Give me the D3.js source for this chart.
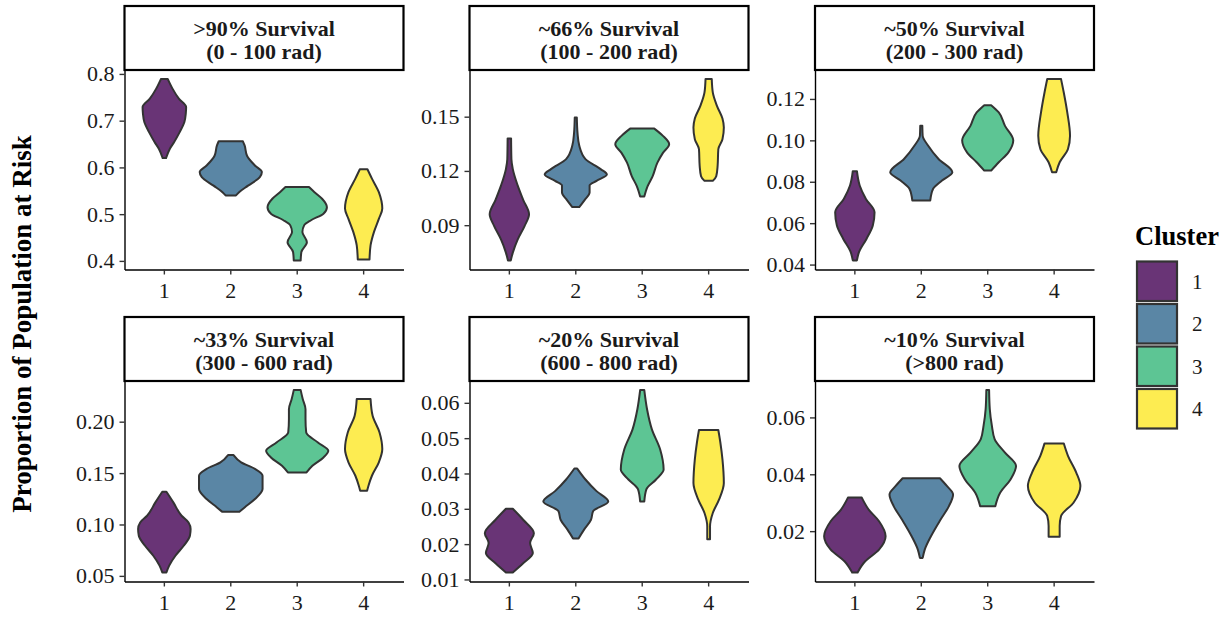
<!DOCTYPE html>
<html><head><meta charset="utf-8">
<script src="https://cdn.jsdelivr.net/npm/d3@7"></script>
<style>body{margin:0;background:#fff} svg{display:block}</style>
</head><body><svg id="chart" width="1228" height="617"></svg>
<script>
// ---------------- data ----------------
const clusters = ["1", "2", "3", "4"];
const clusterColors = ["#440154", "#31688E", "#35B779", "#FDE725"];
const stripTitles = [">90% Survival", "~66% Survival", "~50% Survival", "~33% Survival", "~20% Survival", "~10% Survival"];
const stripSubtitles = ["(0 - 100 rad)", "(100 - 200 rad)", "(200 - 300 rad)", "(300 - 600 rad)", "(600 - 800 rad)", "(>800 rad)"];
const yTicksP1 = [0.4, 0.5, 0.6, 0.7, 0.8];
const yTicksP2 = [0.09, 0.12, 0.15];
const yTicksP3 = [0.04, 0.06, 0.08, 0.10, 0.12];
const yTicksP4 = [0.05, 0.10, 0.15, 0.20];
const yTicksP5 = [0.01, 0.02, 0.03, 0.04, 0.05, 0.06];
const yTicksP6 = [0.02, 0.04, 0.06];
const yTickFormats = [".1f", ".2f", ".2f", ".2f", ".2f", ".2f"];
const yAxisTitle = "Proportion of Population at Risk";
const legendTitle = "Cluster";

// violin profiles per panel: for each cluster, [value, half-width in category units]
const violinsP1 = [
  [[0.620,0.025],[0.640,0.08],[0.654,0.14],[0.675,0.22],[0.697,0.29],[0.715,0.31],[0.729,0.315],[0.747,0.21],[0.768,0.12],[0.789,0.05]],
  [[0.540,0.075],[0.547,0.12],[0.561,0.25],[0.579,0.42],[0.590,0.45],[0.604,0.35],[0.625,0.235],[0.647,0.2],[0.656,0.175]],
  [[0.401,0.05],[0.419,0.06],[0.440,0.14],[0.462,0.075],[0.476,0.1],[0.487,0.2],[0.501,0.38],[0.515,0.43],[0.533,0.36],[0.547,0.25],[0.558,0.17]],
  [[0.403,0.085],[0.433,0.1],[0.462,0.15],[0.490,0.22],[0.512,0.27],[0.547,0.22],[0.576,0.12],[0.596,0.055]]
];
const violinsP2 = [
  [[0.0705,0.02],[0.0748,0.05],[0.082,0.12],[0.0895,0.22],[0.096,0.285],[0.104,0.2],[0.112,0.12],[0.121,0.05],[0.1265,0.03],[0.138,0.025]],
  [[0.100,0.05],[0.104,0.13],[0.108,0.2],[0.112,0.2],[0.1145,0.3],[0.118,0.45],[0.121,0.36],[0.1265,0.14],[0.134,0.05],[0.141,0.025],[0.1495,0.015]],
  [[0.1058,0.03],[0.1117,0.08],[0.117,0.15],[0.1246,0.22],[0.130,0.3],[0.1348,0.39],[0.1394,0.3],[0.1434,0.175]],
  [[0.1145,0.06],[0.117,0.11],[0.1228,0.13],[0.132,0.14],[0.1375,0.2],[0.144,0.22],[0.149,0.2],[0.156,0.12],[0.1634,0.06],[0.1708,0.045]]
];
const violinsP3 = [
  [[0.042,0.03],[0.046,0.06],[0.0525,0.17],[0.0589,0.26],[0.0653,0.285],[0.0717,0.16],[0.0782,0.07],[0.0851,0.03]],
  [[0.071,0.13],[0.0765,0.17],[0.0806,0.3],[0.0846,0.45],[0.091,0.25],[0.0974,0.1],[0.1022,0.02],[0.107,0.015]],
  [[0.0854,0.05],[0.0894,0.16],[0.0942,0.3],[0.100,0.37],[0.107,0.25],[0.1135,0.16],[0.117,0.05]],
  [[0.0846,0.03],[0.0894,0.08],[0.0958,0.2],[0.1022,0.23],[0.1135,0.19],[0.123,0.14],[0.1296,0.1]]
];
const violinsP4 = [
  [[0.0534,0.03],[0.060,0.07],[0.0696,0.16],[0.0793,0.28],[0.089,0.37],[0.0956,0.38],[0.102,0.35],[0.1085,0.25],[0.1215,0.13],[0.1318,0.03]],
  [[0.1124,0.125],[0.1166,0.2],[0.1247,0.35],[0.1344,0.46],[0.1474,0.46],[0.154,0.35],[0.1604,0.15],[0.1675,0.04]],
  [[0.1506,0.135],[0.1571,0.22],[0.1652,0.38],[0.1717,0.45],[0.1798,0.3],[0.1895,0.13],[0.2025,0.12],[0.2122,0.12],[0.222,0.08],[0.2307,0.05]],
  [[0.1328,0.05],[0.1377,0.07],[0.1474,0.12],[0.1604,0.22],[0.1733,0.27],[0.1895,0.23],[0.2057,0.13],[0.222,0.1]]
];
const violinsP5 = [
  [[0.012,0.05],[0.0146,0.2],[0.0175,0.34],[0.0203,0.3],[0.0231,0.355],[0.0269,0.2],[0.030,0.05]],
  [[0.0216,0.04],[0.0241,0.12],[0.0269,0.22],[0.0293,0.25],[0.0321,0.47],[0.035,0.3],[0.0383,0.14],[0.0414,0.02]],
  [[0.0321,0.03],[0.0355,0.06],[0.0383,0.2],[0.0411,0.31],[0.0468,0.26],[0.0525,0.14],[0.0582,0.07],[0.0636,0.03]],
  [[0.0214,0.02],[0.025,0.02],[0.0288,0.06],[0.0326,0.15],[0.0373,0.22],[0.044,0.2],[0.0487,0.17],[0.0523,0.14]]
];
const violinsP6 = [
  [[0.0055,0.04],[0.0094,0.15],[0.0135,0.35],[0.0182,0.445],[0.0235,0.35],[0.0276,0.2],[0.0318,0.1]],
  [[0.0106,0.02],[0.0135,0.05],[0.0182,0.14],[0.0241,0.28],[0.0288,0.4],[0.0329,0.46],[0.0359,0.37],[0.0386,0.27]],
  [[0.0288,0.11],[0.0335,0.18],[0.0382,0.33],[0.0429,0.41],[0.0476,0.25],[0.0524,0.1],[0.0571,0.06],[0.0629,0.03],[0.0696,0.02]],
  [[0.018,0.08],[0.0218,0.08],[0.0253,0.1],[0.030,0.28],[0.0359,0.38],[0.0406,0.32],[0.0465,0.2],[0.0508,0.14]]
];
const panelViolins = [violinsP1, violinsP2, violinsP3, violinsP4, violinsP5, violinsP6];
const panelTicks = [yTicksP1, yTicksP2, yTicksP3, yTicksP4, yTicksP5, yTicksP6];

// ---------------- layout ----------------
const FONT = "'Liberation Serif','Times New Roman',Times,serif";
const colLeft = [124.5, 469.5, 815];
const panelW = 279;
const rowStripTop = [6, 317];
const rowPlotTop = [70, 381];
const rowPlotBottom = [269.5, 581.5];

const svg = d3.select("#chart");
const color = d3.scaleOrdinal().domain(clusters).range(clusterColors);

panelViolins.forEach((violins, p) => {
  const col = p % 3, row = Math.floor(p / 3);
  const left = colLeft[col], right = left + panelW;
  const top = rowPlotTop[row], bottom = rowPlotBottom[row];
  const g = svg.append("g");

  // scales
  const x = d3.scaleBand().domain(clusters).range([left, right]).paddingInner(0).paddingOuter(0.1);
  const allVals = violins.flat().map(d => d[0]);
  const [mn, mx] = d3.extent(allVals);
  const pad = (mx - mn) * 0.05;
  const y = d3.scaleLinear().domain([mn - pad, mx + pad]).range([bottom, top]);
  const w = d3.scaleLinear().domain([0, 1]).range([0, x.step() * 1.04]);

  // violins
  violins.forEach((prof, i) => {
    const cx = x(clusters[i]) + x.bandwidth() / 2;
    const area = d3.area()
      .y(d => y(d[0]))
      .x0(d => cx - w(d[1]))
      .x1(d => cx + w(d[1]))
      .curve(d3.curveMonotoneY);
    g.append("path")
      .attr("d", area(prof))
      .attr("fill", color(clusters[i]))
      .attr("fill-opacity", 0.8)
      .attr("stroke", "#333333")
      .attr("stroke-width", 2)
      .attr("stroke-linejoin", "round");
  });

  // axes
  const yAxis = d3.axisLeft(y).tickValues(panelTicks[p]).tickFormat(d3.format(yTickFormats[p]))
    .tickSize(5).tickSizeOuter(0).tickPadding(5);
  const ya = g.append("g").attr("transform", `translate(${left},0)`).call(yAxis);
  const xAxis = d3.axisBottom(x).tickSize(5).tickSizeOuter(0).tickPadding(8);
  const xa = g.append("g").attr("transform", `translate(0,${bottom})`).call(xAxis);
  [ya, xa].forEach(a => {
    a.attr("font-family", null).attr("font-size", null);
    a.select(".domain").attr("stroke", "#000").attr("stroke-width", 1.4);
    a.selectAll(".tick line").attr("stroke", "#333").attr("stroke-width", 1.4);
    a.selectAll(".tick text").attr("fill", "#1a1a1a").style("font-family", FONT).style("font-size", "22px");
  });

  // strip
  const st = rowStripTop[row];
  g.append("rect").attr("x", left).attr("y", st).attr("width", panelW).attr("height", top - st)
    .attr("fill", "#fff").attr("stroke", "#000").attr("stroke-width", 2.2);
  const tx = (left + right) / 2;
  g.append("text").attr("x", tx).attr("y", st + 29.5).attr("text-anchor", "middle")
    .style("font-family", FONT).style("font-size", "22px").style("font-weight", "bold").attr("fill", "#1a1a1a")
    .text(stripTitles[p]);
  g.append("text").attr("x", tx).attr("y", st + 52.5).attr("text-anchor", "middle")
    .style("font-family", FONT).style("font-size", "22px").style("font-weight", "bold").attr("fill", "#1a1a1a")
    .text(stripSubtitles[p]);
});

// y axis title
svg.append("text")
  .attr("transform", "translate(31,324) rotate(-90)")
  .attr("text-anchor", "middle")
  .style("font-family", FONT).style("font-size", "27px").style("font-weight", "bold")
  .text(yAxisTitle);

// legend
const lg = svg.append("g");
lg.append("text").attr("x", 1135).attr("y", 245)
  .style("font-family", FONT).style("font-size", "26.5px").style("font-weight", "bold")
  .text(legendTitle);
const keyY = d3.scaleBand().domain(clusters).range([260, 430]).padding(0);
clusters.forEach(c => {
  lg.append("rect").attr("x", 1137).attr("y", keyY(c) + 1.5).attr("width", 40).attr("height", keyY.bandwidth() - 3)
    .attr("fill", color(c)).attr("fill-opacity", 0.8).attr("stroke", "#333").attr("stroke-width", 2.2);
  lg.append("text").attr("x", 1192).attr("y", keyY(c) + keyY.bandwidth() / 2).attr("dy", "0.35em")
    .style("font-family", FONT).style("font-size", "21px").attr("fill", "#1a1a1a")
    .text(c);
});
</script>
</body></html>
